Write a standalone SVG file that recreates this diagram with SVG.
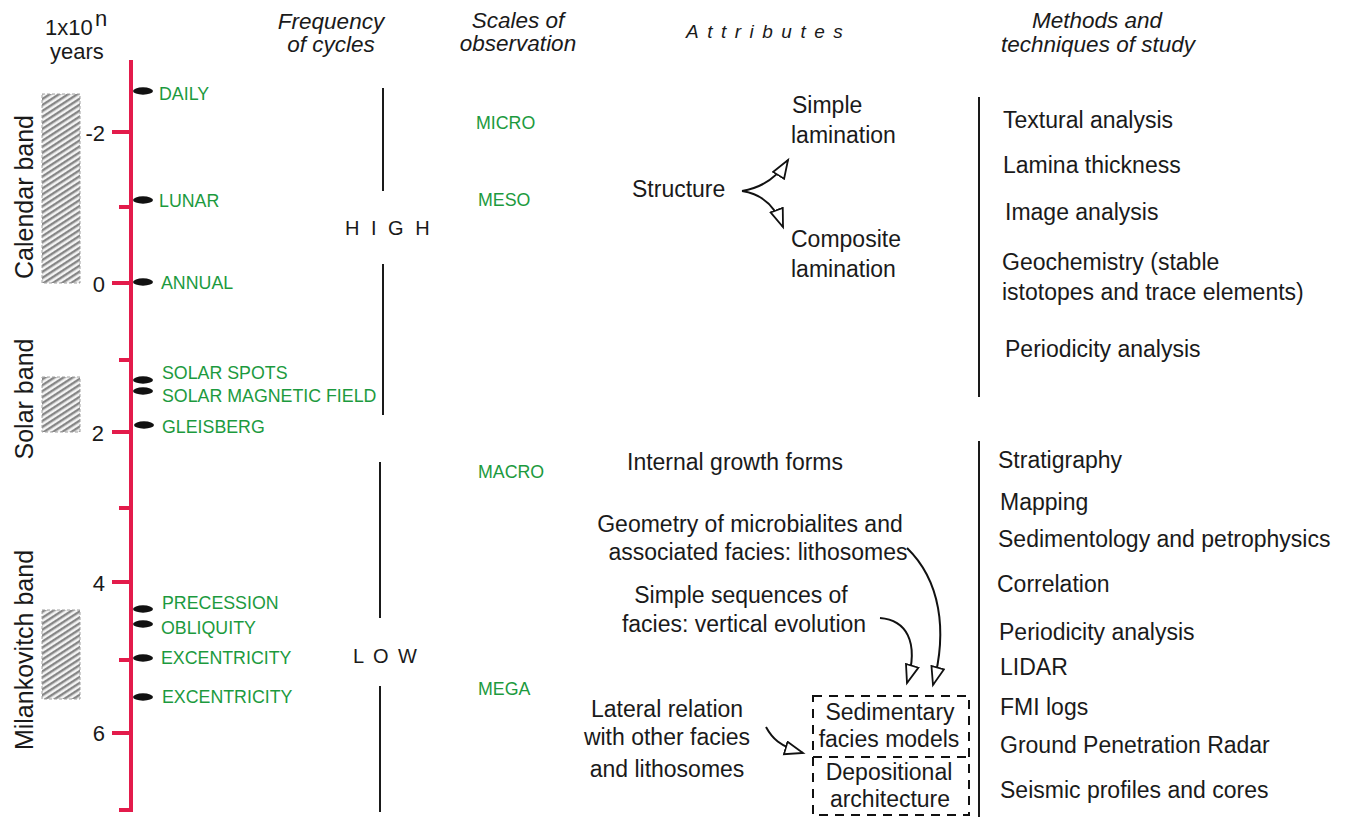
<svg xmlns="http://www.w3.org/2000/svg" width="1359" height="817" viewBox="0 0 1359 817">
<style>
.bk{font-family:"Liberation Sans",Arial,sans-serif;font-size:23px;fill:#1a1a1a}
.hd{font-family:"Liberation Sans",Arial,sans-serif;font-size:22.5px;font-style:italic;fill:#1a1a1a;text-anchor:middle}
.gr{font-family:"Liberation Sans",Arial,sans-serif;font-size:17.8px;fill:#1c9a3e}
.num{font-family:"Liberation Sans",Arial,sans-serif;font-size:22px;fill:#1a1a1a;text-anchor:end}
.band{font-family:"Liberation Sans",Arial,sans-serif;font-size:25px;fill:#1a1a1a;text-anchor:middle}
.fq{font-family:"Liberation Sans",Arial,sans-serif;font-size:20px;fill:#1a1a1a}
.red{stroke:#e31b4b;stroke-width:4;fill:none}
.vl{stroke:#1a1a1a;stroke-width:2;fill:none}
.dot{fill:#111}
.hatch{fill:url(#hp);stroke:#a0a0a0;stroke-width:1;stroke-dasharray:3 2}
.arr{stroke:#111;stroke-width:2;fill:none;marker-end:url(#oa)}
.dash{stroke:#111;stroke-width:2;fill:none;stroke-dasharray:9 7}
.mid{text-anchor:middle}
</style>
<defs>
<pattern id="hp" width="5" height="5" patternUnits="userSpaceOnUse" patternTransform="rotate(-33)">
<rect width="5" height="5" fill="#f4f4f4"/>
<rect width="5" height="2.4" fill="#868686"/>
</pattern>
<marker id="oa" markerUnits="userSpaceOnUse" markerWidth="22" markerHeight="18" refX="19" refY="7.5" orient="auto">
<path d="M1,1 L19,7.5 L1,14 z" fill="#fff" stroke="#111" stroke-width="1.8"/>
</marker>
</defs>
<rect width="1359" height="817" fill="#fff"/>

<g id="axis-header">
<text class="fq" x="45" y="35" style="font-size:22px">1x10</text>
<text class="fq" x="95" y="26" style="font-size:22px">n</text>
<text class="fq" x="50" y="59" style="font-size:22px">years</text>
</g>
<g id="headers">
<text class="hd" x="331" y="29">Frequency</text>
<text class="hd" x="331" y="52">of cycles</text>
<text class="hd" x="518" y="28">Scales of</text>
<text class="hd" x="518" y="51">observation</text>
<text class="hd" x="686" y="38" style="text-anchor:start;font-size:19px;letter-spacing:8.5px">Attributes</text>
<text class="hd" x="1097" y="28">Methods and</text>
<text class="hd" x="1098" y="52">techniques of study</text>
</g>

<g id="bands">
<rect class="hatch" x="42" y="94" width="38" height="189"/>
<rect class="hatch" x="42" y="377" width="38" height="55"/>
<rect class="hatch" x="42" y="610" width="38" height="89"/>
<text class="band" transform="translate(33,197) rotate(-90)">Calendar band</text>
<text class="band" transform="translate(33,399) rotate(-90)">Solar band</text>
<text class="band" transform="translate(33,650) rotate(-90)">Milankovitch band</text>
</g>

<g id="time-axis">
<path class="red" d="M131,60 V812 M119,810 H131"/>
<path class="red" d="M112,132 H131 M119,207 H131 M112,283 H131 M119,360 H131 M112,432 H131 M119,508 H131 M112,582 H131 M119,660 H131 M112,733 H131"/>
<text class="num" x="105" y="141">-2</text>
<text class="num" x="105" y="292">0</text>
<text class="num" x="104" y="441">2</text>
<text class="num" x="105" y="591">4</text>
<text class="num" x="105" y="741">6</text>
</g>

<g id="cycles">
<ellipse class="dot" cx="143" cy="91" rx="10" ry="3.7"/>
<ellipse class="dot" cx="143" cy="200" rx="10" ry="3.7"/>
<ellipse class="dot" cx="143" cy="282" rx="10" ry="3.7"/>
<ellipse class="dot" cx="143" cy="380" rx="10" ry="3.7"/>
<ellipse class="dot" cx="143" cy="391" rx="10" ry="3.7"/>
<ellipse class="dot" cx="144" cy="425" rx="10" ry="3.7"/>
<ellipse class="dot" cx="143" cy="609" rx="10" ry="3.7"/>
<ellipse class="dot" cx="143" cy="624" rx="10" ry="3.7"/>
<ellipse class="dot" cx="143" cy="658" rx="10" ry="3.7"/>
<ellipse class="dot" cx="143" cy="697" rx="10" ry="3.7"/>
<text class="gr" x="159" y="100">DAILY</text>
<text class="gr" x="159" y="207">LUNAR</text>
<text class="gr" x="161" y="289">ANNUAL</text>
<text class="gr" x="162" y="379">SOLAR SPOTS</text>
<text class="gr" x="162" y="402">SOLAR MAGNETIC FIELD</text>
<text class="gr" x="162" y="433">GLEISBERG</text>
<text class="gr" x="162" y="609">PRECESSION</text>
<text class="gr" x="161" y="634">OBLIQUITY</text>
<text class="gr" x="161" y="664">EXCENTRICITY</text>
<text class="gr" x="162" y="703">EXCENTRICITY</text>
</g>

<g id="frequency">
<path class="vl" d="M383,88 V191 M383,264 V415 M380,462 V618 M380,686 V812"/>
<text class="fq" x="345" y="235" style="letter-spacing:3px">H I G H</text>
<text class="fq" x="353" y="663" style="letter-spacing:2px">L O W</text>
</g>

<g id="scales">
<text class="gr" x="476" y="129">MICRO</text>
<text class="gr" x="478" y="206">MESO</text>
<text class="gr" x="478" y="478">MACRO</text>
<text class="gr" x="478" y="695">MEGA</text>
</g>

<g id="attributes">
<text class="bk" x="632" y="197">Structure</text>
<text class="bk" x="792" y="113">Simple</text>
<text class="bk" x="791" y="143">lamination</text>
<text class="bk" x="791" y="247">Composite</text>
<text class="bk" x="791" y="277">lamination</text>
<text class="bk" x="627" y="470">Internal growth forms</text>
<text class="bk mid" x="750" y="532">Geometry of microbialites and</text>
<text class="bk mid" x="758" y="560">associated facies: lithosomes</text>
<text class="bk mid" x="741" y="603">Simple sequences of</text>
<text class="bk mid" x="744" y="632">facies: vertical evolution</text>
<text class="bk mid" x="667" y="717">Lateral relation</text>
<text class="bk mid" x="667" y="745">with other facies</text>
<text class="bk mid" x="667" y="777">and lithosomes</text>
</g>

<g id="facies-boxes">
<path class="dash" d="M813,696 H969 V815 H813 Z"/>
<path class="dash" d="M813,757 H969"/>
<text class="bk mid" x="890" y="720">Sedimentary</text>
<text class="bk mid" x="889" y="747">facies models</text>
<text class="bk mid" x="889" y="780">Depositional</text>
<text class="bk mid" x="890" y="807">architecture</text>
</g>

<g id="connectors">
<path class="arr" d="M742,191 Q772,186 788,160"/>
<path class="arr" d="M742,191 Q771,195 783,227"/>
<path class="arr" d="M907,548 C940,580 948,630 933,685"/>
<path class="arr" d="M880,618 C905,620 920,640 907,683"/>
<path class="arr" d="M766,727 C772,738 779,746 803,753"/>
</g>

<g id="methods">
<path class="vl" d="M979,97 V397 M979,441 V817"/>
<text class="bk" x="1003" y="128">Textural analysis</text>
<text class="bk" x="1003" y="173">Lamina thickness</text>
<text class="bk" x="1005" y="220">Image analysis</text>
<text class="bk" x="1002" y="270">Geochemistry (stable</text>
<text class="bk" x="1002" y="300">istotopes and trace elements)</text>
<text class="bk" x="1005" y="357">Periodicity analysis</text>
<text class="bk" x="998" y="468">Stratigraphy</text>
<text class="bk" x="1000" y="510">Mapping</text>
<text class="bk" x="998" y="547">Sedimentology and petrophysics</text>
<text class="bk" x="997" y="592">Correlation</text>
<text class="bk" x="999" y="640">Periodicity analysis</text>
<text class="bk" x="1000" y="675">LIDAR</text>
<text class="bk" x="1000" y="715">FMI logs</text>
<text class="bk" x="1000" y="753">Ground Penetration Radar</text>
<text class="bk" x="1000" y="798">Seismic profiles and cores</text>
</g>
</svg>
